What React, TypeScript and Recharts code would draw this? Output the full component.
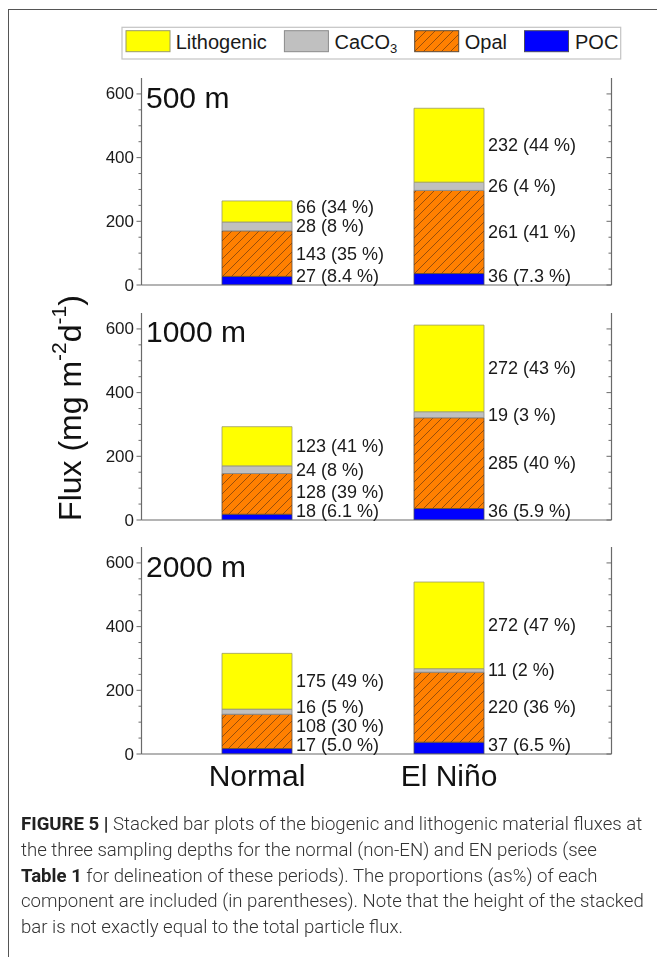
import React from "react";
import { BarChart, Bar, XAxis, YAxis, LabelList } from "recharts";

const FONT = "'Liberation Sans', Arial, sans-serif";

const categories = ["Normal", "El Niño"];
const depthLabels = ["500 m", "1000 m", "2000 m"];

// 500 m
const poc500 = [27, 36];
const opal500 = [143, 261];
const caco3500 = [28, 26];
const litho500 = [66, 232];
const pocPct500 = ["8.4", "7.3"];
const opalPct500 = ["35", "41"];
const caco3Pct500 = ["8", "4"];
const lithoPct500 = ["34", "44"];

// 1000 m
const poc1000 = [18, 36];
const opal1000 = [128, 285];
const caco31000 = [24, 19];
const litho1000 = [123, 272];
const pocPct1000 = ["6.1", "5.9"];
const opalPct1000 = ["39", "40"];
const caco3Pct1000 = ["8", "3"];
const lithoPct1000 = ["41", "43"];

// 2000 m
const poc2000 = [17, 37];
const opal2000 = [108, 220];
const caco32000 = [16, 11];
const litho2000 = [175, 272];
const pocPct2000 = ["5.0", "6.5"];
const opalPct2000 = ["30", "36"];
const caco3Pct2000 = ["5", "2"];
const lithoPct2000 = ["49", "47"];

const yTicks = [0, 50, 100, 150, 200, 250, 300, 350, 400, 450, 500, 550, 600];
const yMajor = [0, 200, 400, 600];
const yDomain = [0, 650];

const legendNames = ["Lithogenic", "CaCO", "Opal", "POC"];

const COLORS = {
  litho: "#FFFF00",
  caco3: "#C0C0C0",
  opal: "#FF8000",
  poc: "#0000FF",
};

const panels = [
  { label: depthLabels[0], vals: [poc500, opal500, caco3500, litho500], pcts: [pocPct500, opalPct500, caco3Pct500, lithoPct500] },
  { label: depthLabels[1], vals: [poc1000, opal1000, caco31000, litho1000], pcts: [pocPct1000, opalPct1000, caco3Pct1000, lithoPct1000] },
  { label: depthLabels[2], vals: [poc2000, opal2000, caco32000, litho2000], pcts: [pocPct2000, opalPct2000, caco3Pct2000, lithoPct2000] },
];

const AXIS = "#6a6a6a";

const LeftTick = (p: any) => {
  const { x, y, payload } = p;
  const v = payload.value;
  const major = yMajor.includes(v);
  return (
    <g>
      <line x1={x} x2={x - (major ? 5 : 3)} y1={y} y2={y} stroke={AXIS} strokeWidth={1} />
      {major && (
        <text x={x - 7.5} y={y} textAnchor="end" dominantBaseline="central" fontSize={17} fill="#1a1a1a" fontFamily={FONT}>
          {v}
        </text>
      )}
    </g>
  );
};

const RightTick = (p: any) => {
  const { x, y, payload } = p;
  const v = payload.value;
  const major = yMajor.includes(v);
  return <line x1={x} x2={x - (major ? 5 : 3)} y1={y} y2={y} stroke={AXIS} strokeWidth={1} />;
};

function makeLabel(vals: number[][], pcts: string[][], s: number) {
  return (props: any) => {
    const { x, y, width, height, index } = props;
    const v = vals[s][index];
    if (!v || height === undefined) return null;
    const h = Math.abs(Number(height));
    const top = Math.min(Number(y), Number(y) + Number(height));
    const k = h / v;
    let below = 0;
    for (let j = 0; j < s; j++) below += vals[j][index];
    const base = top + h + below * k;
    let cum = 0;
    const centers = vals.map((arr) => {
      const c = base - (cum + arr[index] / 2) * k;
      cum += arr[index];
      return c;
    });
    const pos: number[] = [];
    pos[0] = Math.min(centers[0], base - 9.5);
    for (let j = 1; j < vals.length; j++) pos[j] = Math.min(centers[j], pos[j - 1] - 19);
    return (
      <text
        x={Number(x) + Number(width) + 4}
        y={pos[s]}
        dominantBaseline="central"
        fontSize={18}
        fill="#1a1a1a"
        fontFamily={FONT}
      >
        {`${v} (${pcts[s][index]} %)`}
      </text>
    );
  };
}

function Panel({ panel, top, showX }: { panel: any; top: number; showX: boolean }) {
  const data = categories.map((c, i) => ({
    cat: c,
    poc: panel.vals[0][i],
    opal: panel.vals[1][i],
    caco3: panel.vals[2][i],
    litho: panel.vals[3][i],
  }));
  const xh = showX ? 45 : 1;
  const mb = showX ? 0 : 12;
  const keys = ["poc", "opal", "caco3", "litho"];
  const fills = [COLORS.poc, "url(#opalHatch)", COLORS.caco3, COLORS.litho];
  const strokes = ["#4a4a60", "#5a4a3a", "#8a8a8a", "#9a9a6a"];
  return (
    <div style={{ position: "absolute", left: 0, top }}>
      <BarChart
        width={640}
        height={10 + 207 + xh + mb}
        data={data}
        margin={{ top: 10, right: 30.5, left: 93.5, bottom: mb }}
        barSize={70}
      >
        <XAxis
          dataKey="cat"
          type="category"
          padding={{ left: 19.5, right: 66.5 }}
          axisLine={{ stroke: AXIS, strokeWidth: 1.2 }}
          tickLine={false}
          tickSize={0}
          tickMargin={11}
          height={xh}
          interval={0}
          tick={showX ? { fontSize: 30, fill: "#111", fontFamily: FONT } : false}
        />
        <YAxis
          yAxisId="l"
          type="number"
          domain={yDomain}
          ticks={yTicks}
          interval={0}
          width={40}
          tickSize={0}
          tickMargin={0}
          tickLine={false}
          axisLine={{ stroke: AXIS, strokeWidth: 1.2 }}
          tick={<LeftTick />}
          allowDataOverflow
        />
        <YAxis
          yAxisId="r"
          orientation="right"
          type="number"
          domain={yDomain}
          ticks={yTicks}
          interval={0}
          width={6}
          tickSize={0}
          tickMargin={0}
          tickLine={false}
          axisLine={{ stroke: AXIS, strokeWidth: 1.2 }}
          tick={<RightTick />}
          allowDataOverflow
        />
        {keys.map((k, s) => (
          <Bar
            key={k}
            yAxisId="l"
            dataKey={k}
            stackId="a"
            fill={fills[s]}
            stroke={strokes[s]}
            strokeWidth={0.8}
            isAnimationActive={false}
          >
            <LabelList dataKey={k} content={makeLabel(panel.vals, panel.pcts, s)} />
          </Bar>
        ))}
      </BarChart>
    </div>
  );
}

export default function App() {
  // container origin = page (8, 8)
  const plotTops = [78.4, 312.9, 547.4];
  const swX = [118, 276.4, 406.7, 516.5];
  const txX = [167.7, 326.5, 456.8, 567];
  const swFills = [COLORS.litho, COLORS.caco3, "url(#opalHatch)", COLORS.poc];
  const swStrokes = ["#9a9a6a", "#8a8a8a", "#5a4a3a", "#4a4a60"];
  return (
    <div style={{ position: "relative", width: 641, height: 941, overflow: "hidden", fontFamily: FONT }}>
      <svg width={0} height={0} style={{ position: "absolute" }}>
        <defs>
          <pattern id="opalHatch" patternUnits="userSpaceOnUse" width={9} height={9}>
            <rect width={9} height={9} fill={COLORS.opal} />
            <path d="M0,9 L9,0 M-2,2 L2,-2 M7,11 L11,7" stroke="#6b3a10" strokeWidth={0.7} />
          </pattern>
        </defs>
      </svg>
      <div
        style={{
          position: "fixed",
          left: 8,
          top: 9,
          width: 720,
          height: 1000,
          borderTop: "1.5px solid #555",
          borderLeft: "1.5px solid #555",
          boxSizing: "border-box",
          pointerEvents: "none",
        }}
      />
      {/* Legend */}
      <svg width={641} height={70} style={{ position: "absolute", left: 0, top: 0 }}>
        <rect x={114} y={19.3} width={498.7} height={31.7} fill="#fff" stroke="#c4c4c4" strokeWidth={1.2} />
        {legendNames.map((n, i) => (
          <g key={n}>
            <rect x={swX[i]} y={22.7} width={44} height={21} fill={swFills[i]} stroke={swStrokes[i]} strokeWidth={1} />
            <text x={txX[i]} y={33.6} dominantBaseline="central" fontSize={20} fill="#1a1a1a" fontFamily={FONT}>
              {n}
              {i === 1 && (
                <tspan fontSize={13} dy={6}>
                  3
                </tspan>
              )}
            </text>
          </g>
        ))}
      </svg>
      {panels.map((p, i) => (
        <Panel key={p.label} panel={p} top={plotTops[i] - 8 - 10} showX={i === 2} />
      ))}
      {/* depth labels + y title */}
      <svg width={641} height={800} style={{ position: "absolute", left: 0, top: 0, pointerEvents: "none" }}>
        {panels.map((p, i) => (
          <text key={p.label} x={138} y={plotTops[i] - 8 + 18.8} dominantBaseline="central" fontSize={30} fill="#111" fontFamily={FONT}>
            {p.label}
          </text>
        ))}
        <text
          x={62}
          y={400}
          transform="rotate(-90 62 400)"
          textAnchor="middle"
          dominantBaseline="central"
          fontSize={32}
          fill="#111"
          fontFamily={FONT}
        >
          Flux (mg m
          <tspan fontSize={21} dy={-12}>-2</tspan>
          <tspan fontSize={32} dy={12}>d</tspan>
          <tspan fontSize={21} dy={-12}>-1</tspan>
          <tspan fontSize={32} dy={12}>)</tspan>
        </text>
      </svg>
      {/* caption */}
      <div
        style={{
          position: "absolute",
          left: 13,
          top: 804,
          fontFamily: "Roboto, 'Liberation Sans', sans-serif",
          fontWeight: 300,
          fontSize: 18.6,
          lineHeight: "25.8px",
          color: "#333",
          whiteSpace: "nowrap",
        }}
      >
        <div>
          <b style={{ fontWeight: 700, color: "#222" }}>FIGURE 5 |</b> Stacked bar plots of the biogenic and lithogenic material fluxes at
        </div>
        <div>the three sampling depths for the normal (non-EN) and EN periods (see</div>
        <div>
          <b style={{ fontWeight: 700, color: "#222" }}>Table 1</b> for delineation of these periods). The proportions (as%) of each
        </div>
        <div>component are included (in parentheses). Note that the height of the stacked</div>
        <div>bar is not exactly equal to the total particle flux.</div>
      </div>
    </div>
  );
}
